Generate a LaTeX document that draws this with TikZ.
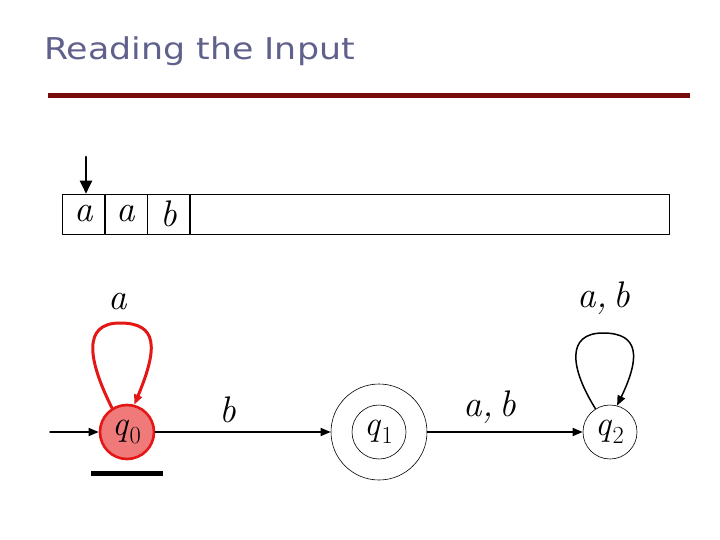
\documentclass[tikz,border=0pt]{standalone}
\usepackage{fontspec}
\usepackage{xcolor}
\usepackage{tikz}
\usetikzlibrary{arrows.meta, positioning}
\newfontfamily\titlefont{DejaVu Sans}
\definecolor{titlegray}{RGB}{96, 96, 140}
\definecolor{barred}{RGB}{120, 12, 12}
\definecolor{hotred}{RGB}{228, 22, 22}
\definecolor{softred}{RGB}{240, 122, 122}
\newcommand{\stname}[1]{\textit{q}\textsubscript{\upshape #1}}

\begin{document}
\begin{tikzpicture}[x=1pt, y=-1pt, line join=round, line cap=round,
    >={Triangle[length=10pt, width=8pt]},
    state/.style={circle, draw, line width=0.6pt, minimum size=54pt, inner sep=0pt, font=\fontsize{35}{35}\selectfont},
    active/.style={state, draw=hotred, fill=softred, line width=2.6pt},
    symb/.style={font=\fontsize{37}{37}\selectfont\itshape},
    cell/.style={draw, line width=0.6pt, minimum width=42pt, minimum height=40pt, inner sep=0pt, anchor=west, font=\fontsize{37}{37}\selectfont\itshape}]
    \useasboundingbox (0,0) rectangle (720,540);

    % Tiêu đề
    \node[anchor=base west, inner sep=0pt, text=titlegray, font=\titlefont\fontsize{30}{30}\selectfont] (title) at (44,60) {\scalebox{1.16}[1]{Reading the Input}};
    \draw[barred, line width=5pt, line cap=butt] (48,96) -- (690,96);

    % Băng đầu vào
    \node[cell] (c1) at (62,214) {a};
    \node[cell, right=0pt of c1] (c2) {a};
    \node[cell, right=0pt of c2] (c3) {b};
    \node[cell, right=0pt of c3, minimum width=479pt] (c4) {};

    % Đầu đọc
    \coordinate (head) at (86,157);
    \draw[->, line width=2.5pt, >={Triangle[length=13pt, width=12pt]}] (head) -- (c1.north -| head);

    % Các trạng thái
    \node[active] (q0) at (127,432) {\stname{0}};
    \node[state, minimum size=96pt] (q1) at (379,432) {};
    \node[state] (q1in) at (q1) {\stname{1}};
    \node[state] (q2) at (610,432) {\stname{2}};

    % Các cạnh chuyển
    \coordinate (start) at (50,432);
    \draw[->, line width=1.5pt] (start) -- (q0);
    \draw[->, line width=1.5pt] (q0) -- (q1);
    \node[symb] (lb) at (228,410) {b};
    \draw[->, line width=1.5pt] (q1) -- (q2);
    \node[symb] (lab) at (490,407) {a,\,b};

    % Vòng lặp
    \draw[->, hotred, line width=3pt] (q0.122) .. controls (88,360) and (82,323) .. (120,323)
        .. controls (158,323) and (158,348) .. (q0.75);
    \node[symb] (la) at (118,302) {a};
    \draw[->, line width=1.5pt] (q2.122) .. controls (570,368) and (566,333) .. (603,333)
        .. controls (640,333) and (640,358) .. (q2.75);
    \node[symb] (lq2) at (604,298) {a,\,b};

    % Vạch dưới q0
    \draw[line width=5pt, line cap=butt] (91,473) -- (163,473);
\end{tikzpicture}
\end{document}
